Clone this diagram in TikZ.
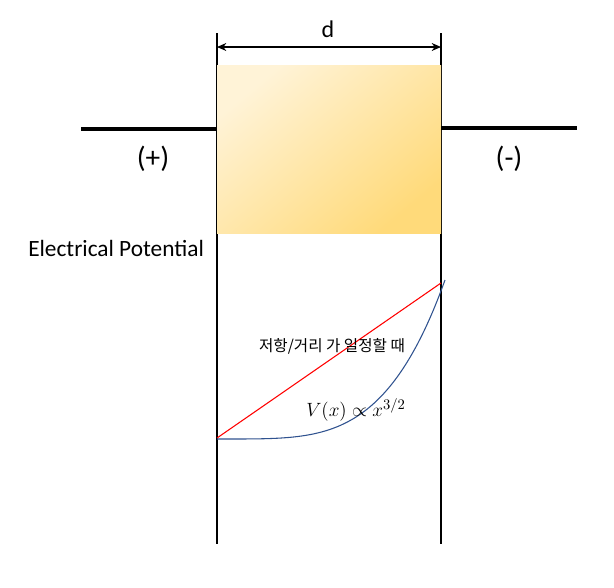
\documentclass[tikz,border=0pt]{standalone}
\usepackage{fontspec}
\setmainfont{Carlito}
\newfontfamily\kofont{Noto Sans CJK KR}
\usetikzlibrary{arrows.meta}
\definecolor{boxA}{RGB}{255,243,215}
\definecolor{boxB}{RGB}{255,218,122}
\definecolor{curveblue}{RGB}{47,82,143}
\tikzset{
  guide/.style={draw=black, line width=0.8pt},
  wire/.style={draw=black, line width=2.4pt},
  lbl/.style={inner sep=0pt, font=\fontsize{22}{24}\selectfont},
}
\begin{document}
\begin{tikzpicture}[x=0.75pt, y=-0.75pt]
\useasboundingbox (0,0) rectangle (614,587);
% guide coordinates
\coordinate (gLt) at (217,33);
\coordinate (gLb) at (217,544);
\coordinate (gRt) at (441,33);
\coordinate (gRb) at (441,544);
\draw[guide] (gLt) -- (gLb);
\draw[guide] (gRt) -- (gRb);
% box
\coordinate (bTL) at (217,65);
\coordinate (bBR) at (441,233);
\shade[top color=boxA, bottom color=boxB, shading angle=40] (bTL) rectangle (bBR);
\node[inner sep=0pt, minimum width=224*0.75pt, minimum height=168*0.75pt] (box) at (329,149) {};
% wires
\coordinate (wL) at (81,129);
\coordinate (wR) at (577,128);
\draw[wire] (wL) -- (box.west |- wL);
\draw[wire] (box.east |- wR) -- (wR);
% dimension
\coordinate (dL) at (217,47);
\coordinate (dR) at (441,47);
\draw[line width=0.8pt, {Stealth[length=7pt,width=6pt]}-{Stealth[length=7pt,width=6pt]}] (dL) -- (dR);
\node[inner sep=0pt, font=\fontsize{18}{20}\selectfont] (d) at (328,29) {d};
\node[lbl] (plus) at (153,159) {(+)};
\node[lbl] (minus) at (509,159) {(-)};
\node[inner sep=0pt, anchor=west, font=\fontsize{17.5}{20}\selectfont] (ep) at (28,248) {Electrical Potential};
% potential curves
\coordinate (p0) at (217,438);
\coordinate (p1) at (441,283);
\draw[red, line width=0.8pt] (p0) -- (p1);
\coordinate (c0) at (217,439);
\coordinate (c1) at (445,280);
\draw[curveblue, line width=0.8pt] (c0) -- plot[domain=0:1, samples=60, smooth] ({217+228*\x}, {439-159*\x*\x*\x*\x}) -- (c1);
\node[inner sep=0pt, font=\kofont\fontsize{11.7}{13}\selectfont] (ko) at (332,346) {저항/거리 가 일정할 때};
\node[inner sep=0pt, font=\fontsize{15}{17}\selectfont] (vx) at (356,410) {$V(x)\propto x^{3/2}$};
\end{tikzpicture}
\end{document}
